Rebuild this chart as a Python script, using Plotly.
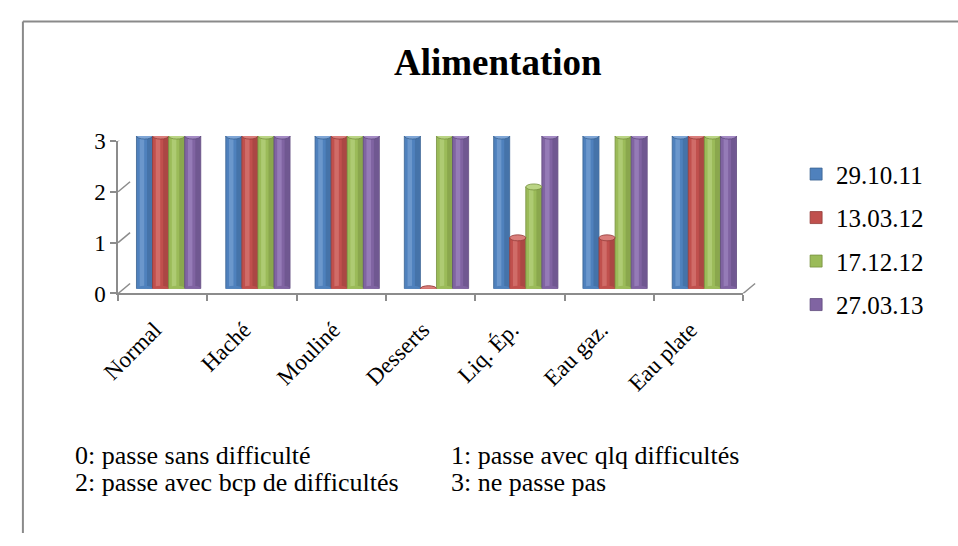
import plotly.graph_objects as go

# Data
categories = ["Normal", "Haché", "Mouliné", "Desserts", "Liq. Ép.", "Eau gaz.", "Eau plate"]
dates = ["29.10.11", "13.03.12", "17.12.12", "27.03.13"]
s_291011 = [3, 3, 3, 3, 3, 3, 3]
s_130312 = [3, 3, 3, 0, 1, 1, 3]
s_171212 = [3, 3, 3, 3, 2, 3, 3]
s_270313 = [3, 3, 3, 3, 3, 3, 3]
series = [s_291011, s_130312, s_171212, s_270313]
y_ticks = [0, 1, 2, 3]
scale_notes = [
    "0: passe sans difficulté", "1: passe avec qlq difficultés",
    "2: passe avec bcp de difficultés", "3: ne passe pas",
]

# Styling
W, H = 958, 546
base_cols = ["#4F81BD", "#C0504D", "#9BBB59", "#8064A2"]
dark_cols = ["#3A6291", "#933B39", "#76913F", "#5E4A7C"]
light_cols = ["#7FA6D6", "#DA7E7B", "#BBD585", "#A48BC4"]
grid_col = "#8C8C8C"
serif = "Liberation Serif"

# depth offset of the 3D box (pixels)
DX, DY = 12, 10


def px_dom(a, b, size, flip=False):
    if flip:
        return [1 - b / size, 1 - a / size]
    return [a / size, b / size]


x_pos = list(range(len(categories)))
bw = 0.18  # bar width (category units)

fig = go.Figure()
shapes = []

for k, (name, vals) in enumerate(zip(dates, series)):
    off = -2 * bw + k * bw
    common = dict(x=x_pos, y=vals, xaxis="x2", yaxis="y2", hoverinfo="skip",
                  legendgroup=name)
    # cylinder body
    fig.add_trace(go.Bar(name=name, width=bw, offset=off,
                         marker=dict(color=base_cols[k],
                                     line=dict(color=dark_cols[k], width=0.8)),
                         **common))
    # shaded right side
    fig.add_trace(go.Bar(width=bw * 0.3, offset=off + bw * 0.66, showlegend=False,
                         marker=dict(color=dark_cols[k], line=dict(width=0), opacity=0.45),
                         **common))
    # highlight
    fig.add_trace(go.Bar(width=bw * 0.28, offset=off + bw * 0.2, showlegend=False,
                         marker=dict(color=light_cols[k], line=dict(width=0), opacity=0.6),
                         **common))
    # rounded bottom and top caps
    for xi, v in zip(x_pos, vals):
        shapes.append(dict(type="circle", xref="x2", yref="y2", ysizemode="pixel",
                           yanchor=0, y0=-3, y1=3, x0=xi + off, x1=xi + off + bw,
                           fillcolor=base_cols[k], line=dict(width=0), layer="above"))
        shapes.append(dict(type="circle", xref="x2", yref="y2", ysizemode="pixel",
                           yanchor=v, y0=-3, y1=3, x0=xi + off, x1=xi + off + bw,
                           fillcolor=light_cols[k],
                           line=dict(color=dark_cols[k], width=0.8), layer="above"))

fig.update_layout(barmode="overlay")

# side-wall diagonals from the front axis to the back wall
for v in y_ticks:
    shapes.append(dict(type="line", xref="x3 domain", yref="y3",
                       xsizemode="pixel", xanchor=0, x0=0, x1=DX,
                       ysizemode="pixel", yanchor=v, y0=0, y1=DY,
                       line=dict(color=grid_col, width=1.5), layer="below"))
# right edge of the floor
shapes.append(dict(type="line", xref="x3 domain", yref="y3",
                   xsizemode="pixel", xanchor=1, x0=0, x1=DX,
                   ysizemode="pixel", yanchor=0, y0=0, y1=DY,
                   line=dict(color=grid_col, width=1.5), layer="below"))

# outer frame
shapes.append(dict(type="line", xref="paper", yref="paper", x0=5 / W, x1=1,
                   y0=1 - 10 / H, y1=1 - 10 / H, line=dict(color="#8A8A8A", width=2)))
shapes.append(dict(type="line", xref="paper", yref="paper", x0=5 / W, x1=5 / W,
                   y0=0, y1=1 - 10 / H, line=dict(color="#8A8A8A", width=2)))

# front plane (left edge 102, right 739; value 0 at y=295, 3 at y=135)
FX0, FX1, FY0, FY3 = 102, 739, 295, 135

layout_axes = dict(
    # back wall with gridlines
    xaxis=dict(domain=px_dom(FX0 + DX, FX1 + DX, W), range=[-0.5, 6.5],
               showticklabels=False, showgrid=False, zeroline=False, showline=False,
               anchor="y", fixedrange=True),
    yaxis=dict(domain=px_dom(FY3 - DY, FY0 - DY, H, flip=True), range=[0, 3],
               tickvals=y_ticks, showticklabels=False, showgrid=True,
               gridcolor=grid_col, gridwidth=1.5, zeroline=True, zerolinecolor=grid_col,
               zerolinewidth=1.5, showline=False, anchor="x"),
    # mid-depth plane holding the cylinders
    xaxis2=dict(domain=px_dom(FX0 + DX / 2, FX1 + DX / 2, W), range=[-0.5, 6.5],
                visible=False, anchor="y2"),
    yaxis2=dict(domain=px_dom(FY3 - DY / 2, FY0 - DY / 2, H, flip=True), range=[0, 3],
                visible=False, anchor="x2"),
    # front plane with the labelled axes
    xaxis3=dict(domain=px_dom(FX0, FX1, W), type="category",
                categoryorder="array", categoryarray=categories,
                range=[-0.5, 6.5], tickangle=-45, tickson="boundaries",
                ticks="outside", ticklen=6, tickcolor=grid_col, tickwidth=1.5,
                ticklabelstandoff=12, ticklabelshift=-8,
                showline=True, linecolor=grid_col, linewidth=1.5,
                showgrid=False, zeroline=False, anchor="y3",
                tickfont=dict(family=serif, size=23, color="#000")),
    yaxis3=dict(domain=px_dom(FY3, FY0, H, flip=True), range=[0, 3],
                tickvals=y_ticks, ticks="outside", ticklen=6, tickcolor=grid_col,
                tickwidth=1.5, showline=True, linecolor=grid_col, linewidth=1.5,
                showgrid=False, zeroline=False, anchor="x3",
                tickfont=dict(family=serif, size=23, color="#000")),
)

# category carrier for the front axis
fig.add_trace(go.Scatter(x=categories, y=[None] * len(categories), xaxis="x3",
                         yaxis="y3", mode="markers", showlegend=False,
                         hoverinfo="skip"))

annotations = [
    dict(text="<b>Alimentation</b>", xref="paper", yref="paper", x=489 / W,
         y=1 - 53 / H, xanchor="center", yanchor="middle", showarrow=False,
         font=dict(family=serif, size=37, color="#000")),
]
note_x = [56, 439, 56, 439]
note_y = [465, 465, 493, 493]
for t, nx, ny in zip(scale_notes, note_x, note_y):
    annotations.append(dict(text=t, xref="paper", yref="paper", x=nx / W, y=1 - ny / H,
                            xanchor="left", yanchor="middle", showarrow=False,
                            font=dict(family=serif, size=26, color="#000")))

fig.update_layout(
    width=W, height=H,
    margin=dict(l=0, r=0, t=0, b=0),
    paper_bgcolor="white", plot_bgcolor="rgba(0,0,0,0)",
    showlegend=True,
    legend=dict(x=793 / W, y=1 - 146 / H, xanchor="left", yanchor="top",
                font=dict(family=serif, size=25, color="#000"),
                tracegroupgap=8, bgcolor="rgba(0,0,0,0)", itemwidth=30),
    shapes=shapes, annotations=annotations,
    **layout_axes,
)

fig.write_html("out.html")
